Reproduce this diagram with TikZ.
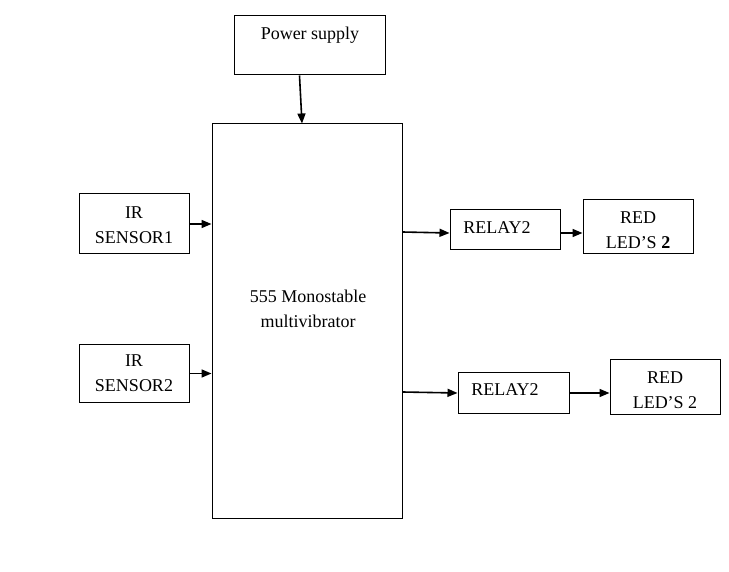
\documentclass[tikz,border=0pt]{standalone}
\usepackage{fontspec}
\setmainfont{Liberation Serif}
\usetikzlibrary{arrows.meta,calc}
\begin{document}
\begin{tikzpicture}[x=1pt,y=-1pt,
  box/.style={draw=black,line width=1pt,inner sep=0pt,anchor=center},
  lbl/.style={inner sep=0pt,align=center,font=\fontsize{18}{25}\selectfont},
  arr/.style={line width=1.6pt,-{Triangle[length=10pt,width=8pt]}}]
\useasboundingbox[fill=white] (0,0) rectangle (729,572);
% boxes
\node[box,minimum width=151pt,minimum height=59pt] (ps) at (309.5,45.5) {};
\node[box,minimum width=190pt,minimum height=394pt] (main) at (307,321) {};
\node[box,minimum width=110pt,minimum height=60pt] (ir1) at (134,224) {};
\node[box,minimum width=110pt,minimum height=57pt] (ir2) at (134,373.5) {};
\node[box,minimum width=110pt,minimum height=40pt] (r1) at (505,230) {};
\node[box,minimum width=110pt,minimum height=54pt] (l1) at (638,227) {};
\node[box,minimum width=111pt,minimum height=40pt] (r2) at (513.5,393) {};
\node[box,minimum width=110pt,minimum height=54pt] (l2) at (665,387) {};
% texts
\node[lbl] (tps) at (310,35) {Power supply};
\node[lbl] (tmain) at (308,309) {555 Monostable\\multivibrator};
\node[lbl] (tir1) at (134,225) {IR\\SENSOR1};
\node[lbl] (tir2) at (134,373) {IR\\SENSOR2};
\node[lbl] (tr1) at (497,228) {RELAY2};
\node[lbl] (tl1) at (638,230) {RED\\LED’S \textbf{2}};
\node[lbl] (tr2) at (505,390) {RELAY2};
\node[lbl] (tl2) at (665,390) {RED\\LED’S 2};
% arrows
\draw[arr] ([xshift=-10pt]ps.south) -- ([xshift=-5pt]main.north);
\draw[arr] (ir1.east) -- (ir1.east -| main.west);
\draw[arr] (ir2.east) -- (ir2.east -| main.west);
\draw[arr] ([yshift=-2pt]main.east |- r1.west) -- ([yshift=-3pt]r1.west);
\draw[arr] ([yshift=-3pt]r1.east) -- ([yshift=-3pt]r1.east -| l1.west);
\draw[arr] ([yshift=1pt]main.east |- r2.west) -- (r2.west);
\draw[arr] (r2.east) -- (r2.east -| l2.west);
\end{tikzpicture}
\end{document}
